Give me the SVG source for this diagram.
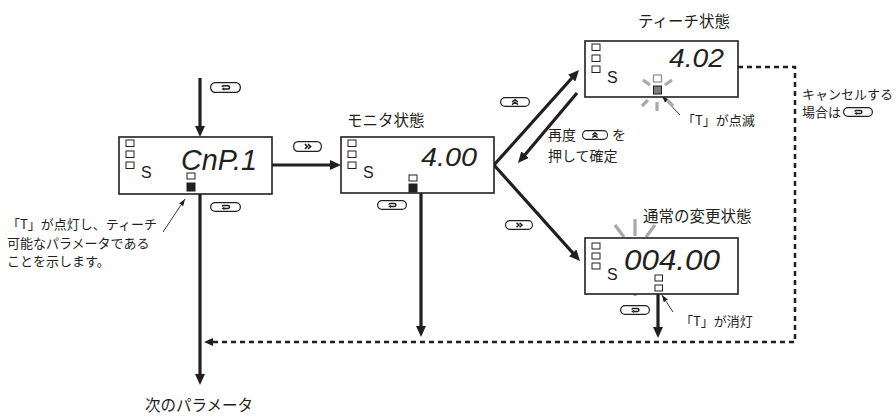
<svg xmlns="http://www.w3.org/2000/svg" width="895" height="417" viewBox="0 0 895 417">
<style>
.box{fill:#fff;stroke:#231f20;stroke-width:1.6}
.sq{fill:#fff;stroke:#231f20;stroke-width:1}
.fl{fill:#231f20;stroke:#231f20;stroke-width:1}
.ln{fill:none;stroke:#231f20;stroke-width:3.2}
.ds{fill:none;stroke:#231f20;stroke-width:2.5;stroke-dasharray:5 4}
.ld{fill:none;stroke:#231f20;stroke-width:0.9}
.ray{stroke:#a7a9ac;stroke-width:3.2;fill:none}
.jp{font-family:"Noto Sans CJK JP","Noto Sans",sans-serif;fill:#231f20}
.t15{font-size:15.5px}
.t13{font-size:13px}
.t14{font-size:14px}
.seg{font-family:"Liberation Sans",sans-serif;font-style:italic;fill:#231f20}
.s{font-family:"Liberation Sans",sans-serif;font-size:16px;fill:#231f20}
.ico{fill:none;stroke:#231f20;stroke-width:1.5}
</style>
<defs>
<marker id="ah" markerUnits="userSpaceOnUse" viewBox="0 0 11 10" markerWidth="11" markerHeight="10" refX="6" refY="5" orient="auto-start-reverse"><path d="M0,0 L11,5 L0,10 z" fill="#231f20"/></marker>
<marker id="ahd" markerUnits="userSpaceOnUse" viewBox="0 0 9 8" markerWidth="9" markerHeight="8" refX="5" refY="4" orient="auto"><path d="M0,0 L9,4 L0,8 z" fill="#231f20"/></marker>
<marker id="ahs" markerUnits="userSpaceOnUse" viewBox="0 0 7 5" markerWidth="7" markerHeight="5" refX="7" refY="2.5" orient="auto"><path d="M0,0 L7,2.5 L0,5 z" fill="#231f20"/></marker>
<symbol id="kLoop" viewBox="0 0 30 10" preserveAspectRatio="none"><rect x="0.6" y="0.6" width="28.8" height="8.8" rx="4.4" fill="#fff" stroke="#231f20" stroke-width="1.2"/><path class="ico" d="M13.4,6.4 H17.4 A1.5,1.5 0 0 0 17.4,3.4 H12.8 A1.5,1.5 0 0 0 12,4.6"/><path d="M11.2,6.4 L13.8,4.8 L13.8,8 z" fill="#231f20"/></symbol>
<symbol id="kRight" viewBox="0 0 30 10" preserveAspectRatio="none"><rect x="0.6" y="0.6" width="28.8" height="8.8" rx="4.4" fill="#fff" stroke="#231f20" stroke-width="1.2"/><path class="ico" d="M12.3,2.8 L15,5 L12.3,7.2 M15.6,2.8 L18.3,5 L15.6,7.2"/></symbol>
<symbol id="kUp" viewBox="0 0 30 10" preserveAspectRatio="none"><rect x="0.6" y="0.6" width="28.8" height="8.8" rx="4.4" fill="#fff" stroke="#231f20" stroke-width="1.2"/><path class="ico" d="M12,5 L15,2.6 L18,5 M12,7.6 L15,5.2 L18,7.6"/></symbol>
</defs>

<g id="connectors">
<path class="ln" d="M200,78 V132" marker-end="url(#ah)"/>
<path class="ln" d="M272,165 H336" marker-end="url(#ah)"/>
<path class="ln" d="M200,194 V380" marker-end="url(#ah)"/>
<path class="ln" d="M421,193 V332" marker-end="url(#ah)"/>
<path class="ln" d="M658,294 V333" marker-end="url(#ah)"/>
<path class="ln" d="M575.7,73.7 L494,165 L576.7,257.3" marker-start="url(#ah)" marker-end="url(#ah)"/>
<path class="ln" d="M577,93 L521.2,159.2" marker-end="url(#ah)"/>
<path class="ds" d="M738,67 H795 V342 H208" marker-end="url(#ahd)"/>
<path class="ld" d="M163,232 L185,199" marker-end="url(#ahs)"/>
<path class="ld" d="M680,115 L662,96" marker-end="url(#ahs)"/>
<path class="ld" d="M673,312 L662,295" marker-end="url(#ahs)"/>
</g>

<g id="keys">
<use href="#kLoop" x="210" y="82" width="31" height="11"/>
<use href="#kRight" x="293" y="141" width="29" height="11"/>
<use href="#kLoop" x="210" y="202" width="31" height="10"/>
<use href="#kLoop" x="377" y="200" width="30" height="10"/>
<use href="#kUp" x="500" y="97" width="30" height="10"/>
<use href="#kRight" x="505" y="220" width="28" height="10"/>
<use href="#kLoop" x="620" y="305" width="30" height="10"/>
</g>

<g id="n-cnp">
<rect class="box" x="119" y="137" width="153" height="57"/>
<rect class="sq" x="126" y="140" width="8" height="6.5"/>
<rect class="sq" x="126" y="151" width="8" height="6.5"/>
<rect class="sq" x="126" y="162" width="8" height="6.5"/>
<text class="s" x="141" y="178">S</text>
<text class="seg" x="181" y="170" font-size="30" textLength="76" lengthAdjust="spacingAndGlyphs">CnP.1</text>
<rect class="sq" x="187" y="173" width="8" height="6"/>
<rect class="fl" x="187" y="183" width="8" height="8"/>
</g>

<g id="n-monitor">
<text class="jp t15" x="347" y="126">モニタ状態</text>
<rect class="box" x="341" y="137" width="153" height="56"/>
<rect class="sq" x="348" y="140" width="8" height="6.5"/>
<rect class="sq" x="348" y="151" width="8" height="6.5"/>
<rect class="sq" x="348" y="162" width="8" height="6.5"/>
<text class="s" x="363" y="178">S</text>
<text class="seg" x="421" y="166" font-size="26" textLength="56" lengthAdjust="spacingAndGlyphs">4.00</text>
<rect class="sq" x="409" y="175" width="8" height="6"/>
<rect class="fl" x="409" y="184" width="8" height="8"/>
</g>

<g id="n-teach">
<text class="jp t15" x="638" y="27">ティーチ状態</text>
<rect class="box" x="585" y="41" width="153" height="56"/>
<rect class="sq" x="592" y="44" width="8" height="6.5"/>
<rect class="sq" x="592" y="55" width="8" height="6.5"/>
<rect class="sq" x="592" y="66" width="8" height="6.5"/>
<text class="s" x="607" y="83">S</text>
<text class="seg" x="669" y="67" font-size="26" textLength="55" lengthAdjust="spacingAndGlyphs">4.02</text>
<path class="ray" d="M643,80 L650,85 M672,80 L665,85 M642,106 L648,100 M657,102 V111 M673,106 L667,100"/>
<rect x="653.5" y="75" width="8" height="7" fill="#fff" stroke="#8a8a8a" stroke-width="1.2"/>
<rect x="653.5" y="86" width="8" height="8" fill="#7d7d7d" stroke="#231f20" stroke-width="1"/>
<text class="jp t13" x="682" y="125">「T」が点滅</text>
</g>

<g id="n-normal">
<text class="jp t15" x="643" y="222">通常の変更状態</text>
<path class="ray" d="M615,225 L624,237 M635,219 V236 M655,225 L646,237 M615,291 L623,282 M635,281 V296 M655,291 L647,282"/>
<rect class="box" x="585" y="238" width="153" height="56"/>
<rect class="sq" x="592" y="243" width="8" height="6"/>
<rect class="sq" x="592" y="253" width="8" height="6"/>
<rect class="sq" x="592" y="263" width="8" height="6"/>
<text class="s" x="607" y="280">S</text>
<text class="seg" x="624" y="270" font-size="30" textLength="96" lengthAdjust="spacingAndGlyphs">004.00</text>
<rect class="sq" x="655" y="275" width="7.5" height="6"/>
<rect class="sq" x="655" y="285" width="7.5" height="6"/>
<text class="jp t13" x="680" y="326">「T」が消灯</text>
</g>

<g id="labels">
<text class="jp t13" x="7" y="229">「T」が点灯し、ティーチ</text>
<text class="jp t13" x="7" y="247.5">可能なパラメータである</text>
<text class="jp t13" x="7" y="266">ことを示します。</text>
<text class="jp t14" x="548" y="140">再度</text>
<use href="#kUp" x="582" y="130" width="26" height="10"/>
<text class="jp t14" x="612" y="140">を</text>
<text class="jp t14" x="548" y="161">押して確定</text>
<text class="jp t13" x="802" y="99">キャンセルする</text>
<text class="jp t13" x="802" y="117">場合は</text>
<use href="#kLoop" x="843" y="107" width="30" height="10"/>
<text class="jp t15" x="145" y="411">次のパラメータ</text>
</g>
</svg>
